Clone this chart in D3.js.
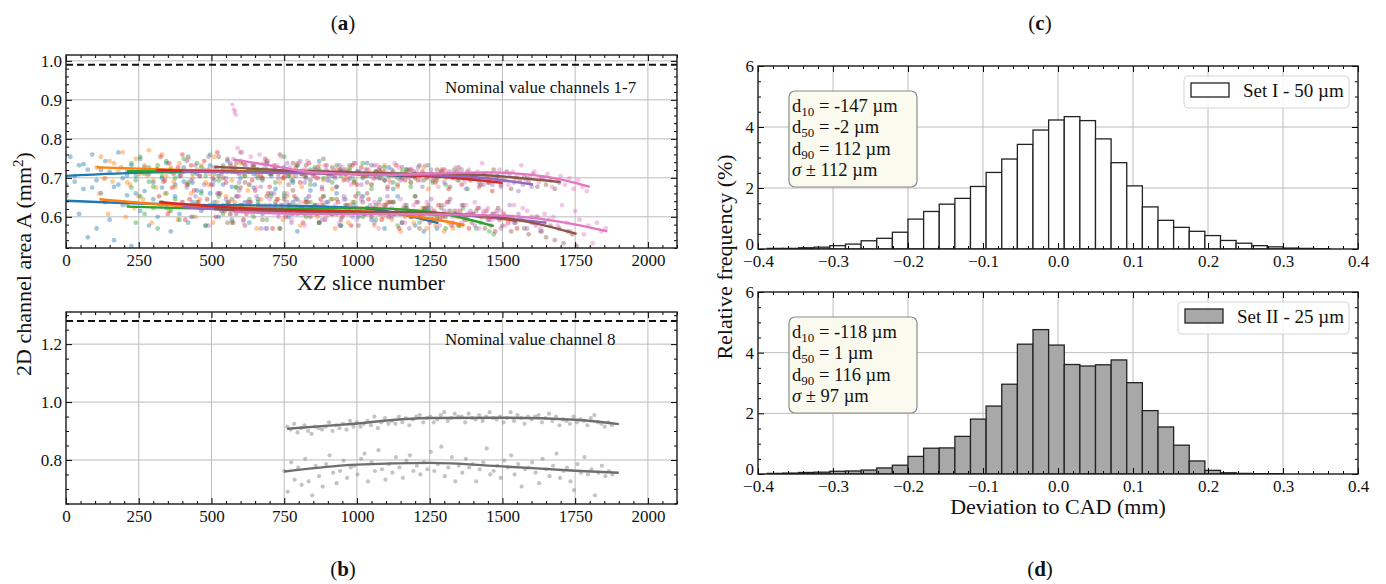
<!DOCTYPE html>
<html lang="en">
<head>
<meta charset="utf-8">
<script src="https://d3js.org/d3.v7.min.js"></script>
<style>
    body { margin: 0; background: #fff; }
    svg text { font-family: "Liberation Serif", "DejaVu Serif", serif; fill: #111; }
</style>
</head>
<body>
<svg id="fig" width="1386" height="584"></svg>
<script>
    // ---- panel (a): channels 1-7, area per XZ slice ----
    const channelColors = ['#1f77b4', '#ff7f0e', '#2ca02c', '#d62728', '#9467bd', '#8c564b', '#e377c2'];
    const sliceStep = 15;
    // readings are coded one char per slice step (base 36), value = lo + code * dv
    const upperLo = 0.611, upperDv = 0.0055;
    const lowerLo = 0.4875, lowerDv = 0.0075;
    const upperStart = [0, 105, 210, 310, 400, 510, 575];
    const upperRaw = [
        "dqhmbkrf9ojcsg8mhpaiekgnjdhlqeiajmfhkocjgmdikfnhbjlhemigkdojfhckimejgndhjflbigkeh",
        "lqgonjsekpimtfkrhlcnjpgkmeiqhlkfjnhdmigkjlegihnckjhmfjbkigleihkdjgmfhcgjeihlbhfkg",
        "jnfqilcmhokgjpeinlhrifmjkcohjlgkniejqhfmjhdlkgiemhikfjnhbjglhegjkcihfmegjdhkfgbi",
        "kqfnilrdmjhokgsjemlinjfkhpcmigkjlehnigbmihkfjmdlhigkjcimhfkhfjgiehkbgjdhfgcieafd",
        "jofmhkqdlignjeikmhclikgjnfhoejhlckigmjfhjdkhmgibkhfigjlchkgiejhfkbgiedgdhcfieadgc",
        "lqgpjnsekmkgoilrhdnjimfkjphlcjkgnihemjlfijdlhkgmihfkjhcilgjhgdiekhfjbgfheicgdfbe",
        "pusmqkrnolmqhljnkoigjmfkilhdnjikgmhjenlihkjfmigckijlhekgjnhigkidjhmfhjegicfhdgbfca"
    ];
    const lowerStart = [0, 115, 210, 320, 400, 510, 580];
    const lowerRaw = [
        "m4rgx8pbvke7qjt5nhwclfpiamgrdkohcnkfqjemikdplgbnjhmfkailohdjkgnclhjfmiejhbkgmdifcgaieb",
        "nsgrkwfqimltdpjnhrekjnfliqdkhmgkjeoibljhhlemgjckihfjhlbigdkhighcjfkehafhdgibecfadbfc",
        "jpdmgribknhlejqfkncjimgkdpjhlfkiemhbnjglifkjdmhlgcjhknfigeligkchjfmdihefjbhgciegbdfa9",
        "mrgpjtelokilqfnhkdmjgkoihnbljfjmhdkiglehikfjcmhglihejkgbihfkgidhjfkcghebgifhcaegdfb",
        "kpfmiqcjnhlgjoekhmbijnfhkdligmhjekgicmhfilgjdkhmfhgjbhkfilgehkdgjfhcigeghbfjdgebfcad",
        "injdlgpckhjemhkblioghkfjdmigleijhcknfhgjfkhdigmbhjgeiflhcjgdhfbegicfadeb9dfa8c7b6a95",
        "hmdkgpjbligjnehkcmigkfhjdlgiemhgkbjfihldgjhekigcjhfhdjgkbhieghcfjeihdfbgefcjdahe9c6dab"
    ];
    const outlierPink = [[572, 0.888], [576, 0.876], [579, 0.866], [582, 0.872], [585, 0.861]];
    // fitted curves [slice, area]
    const upperFits = [
        [[0, 0.705], [300, 0.714], [600, 0.716], [900, 0.712], [1205, 0.703]],
        [[105, 0.727], [400, 0.72], [800, 0.714], [1100, 0.71], [1300, 0.705]],
        [[210, 0.717], [600, 0.716], [1000, 0.712], [1200, 0.707], [1400, 0.699]],
        [[310, 0.72], [700, 0.714], [1100, 0.708], [1300, 0.702], [1500, 0.687]],
        [[400, 0.716], [800, 0.712], [1200, 0.708], [1400, 0.702], [1605, 0.683]],
        [[510, 0.728], [800, 0.718], [1100, 0.712], [1400, 0.708], [1700, 0.689]],
        [[575, 0.747], [700, 0.732], [850, 0.714], [1100, 0.708], [1450, 0.714], [1650, 0.703], [1800, 0.677]]
    ];
    const lowerFits = [
        [[0, 0.641], [400, 0.631], [800, 0.628], [1050, 0.62], [1150, 0.607], [1280, 0.584]],
        [[115, 0.645], [400, 0.628], [800, 0.62], [1170, 0.604], [1370, 0.579]],
        [[210, 0.626], [600, 0.62], [1000, 0.623], [1250, 0.613], [1470, 0.576]],
        [[320, 0.638], [600, 0.622], [900, 0.615], [1250, 0.61], [1550, 0.59]],
        [[400, 0.625], [700, 0.612], [1000, 0.608], [1300, 0.606], [1650, 0.585]],
        [[510, 0.62], [800, 0.612], [1100, 0.612], [1400, 0.605], [1600, 0.585], [1755, 0.556]],
        [[580, 0.613], [900, 0.607], [1200, 0.607], [1500, 0.603], [1700, 0.587], [1860, 0.563]]
    ];
    const nominal17 = 0.99;

    // ---- panel (b): channel 8 ----
    const ch8Step = 12;
    const ch8Series = [
        { start: 760, lo: 0.85, dv: 0.005,
          raw: "dbf9cea8dcbdgaecfbhdgdfhekcgjfhfkgjeiklgjkgilnhjmkkgmjilhknjikgjnhljfkiklgjmhkeihfkgihejlgfdge" },
        { start: 750, lo: 0.66, dv: 0.006,
          raw: "h5mcj9ob3ke8lqgahndjkforbmhticlgpjdnqhkfmishlvejpbkgojlbimufhkdnjqfl8ijmgaoiekrdhjb6lgpfi3gkehf" }
    ];
    const ch8Fits = [
        [[760, 0.908], [950, 0.922], [1250, 0.945], [1500, 0.946], [1750, 0.939], [1900, 0.924]],
        [[750, 0.76], [1000, 0.784], [1250, 0.79], [1500, 0.778], [1750, 0.763], [1900, 0.756]]
    ];
    const nominal8 = 1.28;

    // ---- panels (c), (d): deviation histograms ----
    const binLo = -0.3875, binW = 0.5 / 24;
    const freqSet1 = [0.02, 0.02, 0.04, 0.06, 0.11, 0.16, 0.27, 0.35, 0.55, 0.98, 1.23, 1.47, 1.66, 2.05, 2.51, 2.95,
        3.43, 3.90, 4.23, 4.34, 4.21, 3.61, 2.83, 2.07, 1.38, 0.94, 0.71, 0.58, 0.44, 0.28, 0.19, 0.11, 0.07, 0.03, 0.02, 0.01];
    const freqSet2 = [0.02, 0.03, 0.05, 0.06, 0.09, 0.10, 0.13, 0.20, 0.29, 0.58, 0.85, 0.86, 1.24, 1.81, 2.24, 2.96,
        4.28, 4.76, 4.25, 3.61, 3.56, 3.60, 3.76, 3.01, 2.09, 1.55, 0.95, 0.43, 0.12, 0.04, 0.02, 0.01, 0.01];
    const statsSet1 = ['-147', '-2', '112', '112'];
    const statsSet2 = ['-118', '1', '116', '97'];
    const legendSet1 = 'Set I - 50 µm';
    const legendSet2 = 'Set II - 25 µm';

    const sliceTicks = [0, 250, 500, 750, 1000, 1250, 1500, 1750, 2000];
    const devTicks = [-0.4, -0.3, -0.2, -0.1, 0, 0.1, 0.2, 0.3, 0.4];
    const freqTicks = [0, 2, 4, 6];

    const svg = d3.select('#fig');

    function decode(start, raw, lo, dv, ds) {
        return Array.from(raw, (ch, i) => [start + i * ds, lo + parseInt(ch, 36) * dv]);
    }

    function minorOf(lo, hi, st, majors) {
        return d3.range(lo, hi + st / 2, st).filter(v => !majors.some(m => Math.abs(m - v) < st / 4));
    }

    function grid(g, x, y, xt, yt) {
        const w = x.range()[1], h = y.range()[0];
        const gg = g.append('g').attr('stroke', '#bcbcbc').attr('stroke-width', 1);
        gg.selectAll('.gx').data(xt.filter(v => x(v) > 0.5 && x(v) < w - 0.5)).join('line')
            .attr('x1', d => x(d)).attr('x2', d => x(d)).attr('y1', 0).attr('y2', h);
        gg.selectAll('.gy').data(yt.filter(v => y(v) > 0.5 && y(v) < h - 0.5)).join('line')
            .attr('y1', d => y(d)).attr('y2', d => y(d)).attr('x1', 0).attr('x2', w);
    }

    function axes(g, x, y, o) {
        const w = x.range()[1], h = y.range()[0];
        const clean = s => s.call(a => a.select('.domain').remove()).attr('font-family', null).attr('font-size', 17);
        g.append('g').attr('transform', `translate(0,${h})`)
            .call(d3.axisBottom(x).tickValues(o.xt).tickFormat(o.xf).tickSize(-6).tickPadding(6)).call(clean);
        g.append('g').attr('transform', `translate(0,${h})`)
            .call(d3.axisBottom(x).tickValues(o.xm).tickFormat('').tickSize(-3)).call(clean);
        g.append('g').call(d3.axisTop(x).tickValues(o.xt).tickFormat('').tickSize(-6)).call(clean);
        g.append('g').call(d3.axisTop(x).tickValues(o.xm).tickFormat('').tickSize(-3)).call(clean);
        const yl = g.append('g').call(d3.axisLeft(y).tickValues(o.yt).tickFormat(o.yf).tickSize(-6).tickPadding(4)).call(clean);
        // lift the bottom label a touch so it clears the first x label, as in the reference
        if (o.liftZero) yl.selectAll('.tick').filter(d => d === o.yt[0]).select('text').attr('dy', '0.05em');
        g.append('g').call(d3.axisLeft(y).tickValues(o.ym).tickFormat('').tickSize(-3)).call(clean);
        g.append('g').attr('transform', `translate(${w},0)`)
            .call(d3.axisRight(y).tickValues(o.yt).tickFormat('').tickSize(-6)).call(clean);
        g.append('g').attr('transform', `translate(${w},0)`)
            .call(d3.axisRight(y).tickValues(o.ym).tickFormat('').tickSize(-3)).call(clean);
        g.append('rect').attr('width', w).attr('height', h)
            .attr('fill', 'none').attr('stroke', '#1a1a1a').attr('stroke-width', 1.4);
    }

    function clipFor(id, w, h) {
        svg.append('clipPath').attr('id', id).append('rect').attr('width', w).attr('height', h);
        return `url(#${id})`;
    }

    const lineGen = (x, y) => d3.line().x(d => x(d[0])).y(d => y(d[1])).curve(d3.curveMonotoneX);

    // ---------- panel (a) ----------
    {
        const g = svg.append('g').attr('transform', 'translate(66,55)');
        const x = d3.scaleLinear().domain([0, 2100]).range([0, 611]);
        const y = d3.scaleLinear().domain([0.52, 1.015]).range([193, 0]);
        const yt = [0.6, 0.7, 0.8, 0.9, 1.0];
        grid(g, x, y, sliceTicks, yt);
        const body = g.append('g').attr('clip-path', clipFor('clipA', 611, 193));
        channelColors.forEach((c, i) => {
            const pts = decode(upperStart[i], upperRaw[i], upperLo, upperDv, sliceStep)
                .concat(decode(lowerStart[i], lowerRaw[i], lowerLo, lowerDv, sliceStep));
            body.append('g').attr('fill', c).attr('fill-opacity', 0.42)
                .selectAll('circle').data(pts).join('circle')
                .attr('cx', d => x(d[0])).attr('cy', d => y(d[1])).attr('r', 2.4);
        });
        body.append('g').attr('fill', channelColors[6]).attr('fill-opacity', 0.45)
            .selectAll('circle').data(outlierPink).join('circle')
            .attr('cx', d => x(d[0])).attr('cy', d => y(d[1])).attr('r', 2);
        channelColors.forEach((c, i) => {
            [upperFits[i], lowerFits[i]].forEach(f => {
                body.append('path').attr('d', lineGen(x, y)(f))
                    .attr('fill', 'none').attr('stroke', c).attr('stroke-width', 2.4);
            });
        });
        body.append('line').attr('x1', 0).attr('x2', 611).attr('y1', y(nominal17)).attr('y2', y(nominal17))
            .attr('stroke', '#111').attr('stroke-width', 2).attr('stroke-dasharray', '7,4');
        g.append('text').attr('x', 379).attr('y', 38).attr('font-size', 17).text('Nominal value channels 1-7');
        axes(g, x, y, {
            xt: sliceTicks, xf: d3.format('d'), xm: minorOf(0, 2100, 50, sliceTicks),
            yt: yt, yf: d3.format('.1f'), ym: minorOf(0.52, 1.0, 0.02, yt)
        });
    }

    // ---------- panel (b) ----------
    {
        const g = svg.append('g').attr('transform', 'translate(66,312)');
        const x = d3.scaleLinear().domain([0, 2100]).range([0, 611]);
        const y = d3.scaleLinear().domain([0.648, 1.311]).range([192, 0]);
        const yt = [0.8, 1.0, 1.2];
        grid(g, x, y, sliceTicks, yt);
        const body = g.append('g').attr('clip-path', clipFor('clipB', 611, 192));
        ch8Series.forEach(s => {
            body.append('g').attr('fill', '#8a8a8a').attr('fill-opacity', 0.5)
                .selectAll('circle').data(decode(s.start, s.raw, s.lo, s.dv, ch8Step)).join('circle')
                .attr('cx', d => x(d[0])).attr('cy', d => y(d[1])).attr('r', 2.1);
        });
        ch8Fits.forEach(f => {
            body.append('path').attr('d', lineGen(x, y)(f))
                .attr('fill', 'none').attr('stroke', '#6e6e6e').attr('stroke-width', 2.4);
        });
        body.append('line').attr('x1', 0).attr('x2', 611).attr('y1', y(nominal8)).attr('y2', y(nominal8))
            .attr('stroke', '#111').attr('stroke-width', 2).attr('stroke-dasharray', '7,4');
        g.append('text').attr('x', 379).attr('y', 33).attr('font-size', 17).text('Nominal value channel 8');
        axes(g, x, y, {
            xt: sliceTicks, xf: d3.format('d'), xm: minorOf(0, 2100, 50, sliceTicks),
            yt: yt, yf: d3.format('.1f'), ym: minorOf(0.65, 1.3, 0.05, yt)
        });
    }

    // ---------- panels (c), (d) ----------
    function histPanel(top, h, freq, stats, legend, fill, clipId, legendX, legendW) {
        const g = svg.append('g').attr('transform', `translate(758,${top})`);
        const x = d3.scaleLinear().domain([-0.4, 0.4]).range([0, 600]);
        const y = d3.scaleLinear().domain([0, 6]).range([h, 0]);
        grid(g, x, y, devTicks, freqTicks);
        const body = g.append('g').attr('clip-path', clipFor(clipId, 600, h));
        body.selectAll('rect').data(freq).join('rect')
            .attr('x', (d, i) => x(binLo + i * binW))
            .attr('width', x(binW) - x(0))
            .attr('y', d => y(d)).attr('height', d => y(0) - y(d))
            .attr('fill', fill).attr('stroke', '#222').attr('stroke-width', 1.3);

        // stats box
        const bx = g.append('g').attr('transform', 'translate(31,25)');
        bx.append('rect').attr('width', 128).attr('height', 96).attr('rx', 6)
            .attr('fill', '#fbfaee').attr('stroke', '#8c8c8c').attr('stroke-width', 1.2);
        const subs = ['10', '50', '90'];
        stats.forEach((v, i) => {
            const t = bx.append('text').attr('x', 3).attr('y', 21 + i * 21.3).attr('font-size', 18.5);
            if (i < 3) {
                t.append('tspan').text('d');
                t.append('tspan').attr('font-size', 13).attr('dy', 4).text(subs[i]);
                t.append('tspan').attr('dy', -4).text(` = ${v} µm`);
            } else {
                t.append('tspan').attr('font-style', 'italic').text('σ');
                t.append('tspan').text(` ± ${v} µm`);
            }
        });

        // legend
        const lg = g.append('g').attr('transform', `translate(${legendX},10)`);
        lg.append('rect').attr('width', legendW).attr('height', 32).attr('rx', 4)
            .attr('fill', '#fff').attr('fill-opacity', 0.85).attr('stroke', '#d4d4d4').attr('stroke-width', 1);
        lg.append('rect').attr('x', 7).attr('y', 7).attr('width', 38).attr('height', 14)
            .attr('fill', fill).attr('stroke', '#222').attr('stroke-width', 1.3);
        lg.append('text').attr('x', 59).attr('y', 21).attr('font-size', 19).text(legend);

        axes(g, x, y, {
            xt: devTicks, xf: d3.format('.1f'), xm: minorOf(-0.4, 0.4, 0.02, devTicks),
            yt: freqTicks, yf: d3.format('d'), ym: minorOf(0, 6, 0.5, freqTicks), liftZero: true
        });
    }
    histPanel(66, 183, freqSet1, statsSet1, legendSet1, '#ffffff', 'clipC', 426, 165);
    histPanel(292, 182, freqSet2, statsSet2, legendSet2, '#a8a8a8', 'clipD', 420, 171);

    // ---------- axis titles ----------
    svg.append('text').attr('x', 371).attr('y', 290).attr('text-anchor', 'middle').attr('font-size', 22)
        .text('XZ slice number');
    const yl = svg.append('text').attr('transform', 'translate(31,264) rotate(-90)')
        .attr('text-anchor', 'middle').attr('font-size', 22);
    yl.append('tspan').text('2D channel area A (mm');
    yl.append('tspan').attr('font-size', 15).attr('dy', -8).text('2');
    yl.append('tspan').attr('dy', 8).text(')');
    svg.append('text').attr('transform', 'translate(732,257) rotate(-90)')
        .attr('text-anchor', 'middle').attr('font-size', 22).text('Relative frequency (%)');
    svg.append('text').attr('x', 1058).attr('y', 514).attr('text-anchor', 'middle').attr('font-size', 22)
        .text('Deviation to CAD (mm)');

    // ---------- panel letters ----------
    [['a', 343, 30], ['b', 343, 576], ['c', 1040, 30], ['d', 1040, 576]].forEach(([l, px, py]) => {
        const t = svg.append('text').attr('x', px).attr('y', py).attr('text-anchor', 'middle').attr('font-size', 21);
        t.append('tspan').text('(');
        t.append('tspan').attr('font-weight', 'bold').text(l);
        t.append('tspan').text(')');
    });
</script>
</body>
</html>
